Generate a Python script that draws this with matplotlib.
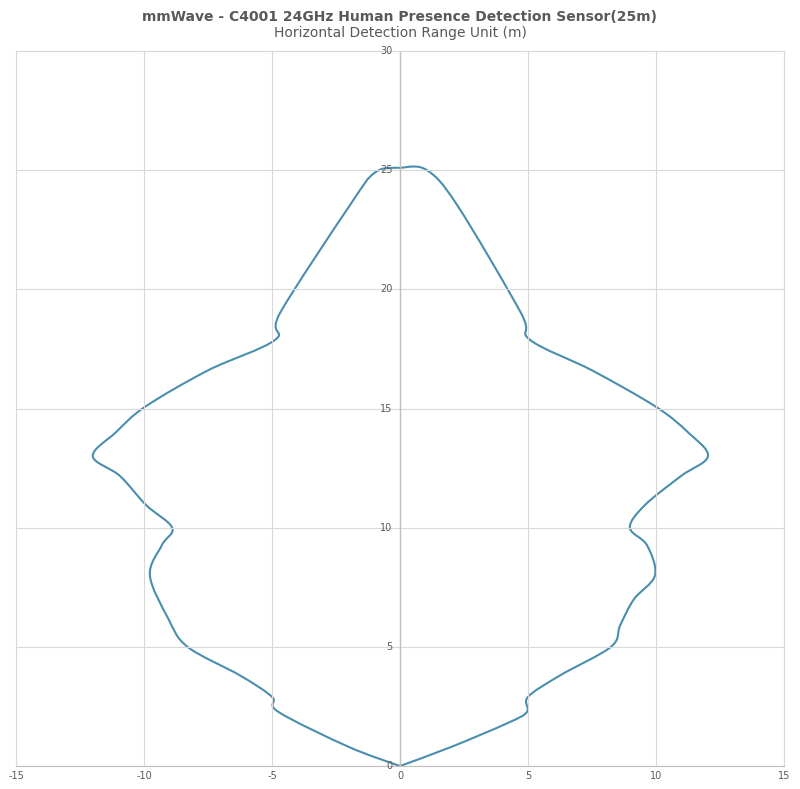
import matplotlib
matplotlib.use("Agg")
import matplotlib.pyplot as plt
from matplotlib.path import Path
from matplotlib.patches import PathPatch
plt.rcParams["axes.unicode_minus"] = False

x_vals = [0, 2.0, 4.2, 4.96, 5.0, 6.25, 8.24, 8.6, 9.14, 9.96, 9.65, 8.98, 9.57, 10.98, 12.03, 11.25, 10.0, 7.5, 5.08, 4.73, 2.23, 1.05, 0,
          -0.98, -1.95, -4.69, -4.88, -7.5, -9.96, -11.1, -12.0, -10.94, -9.92, -8.9, -9.3, -9.77, -9.06, -8.3, -6.25, -5.0, -4.75, -2.0, 0]
y_vals = [0, 0.8, 1.8, 2.27, 2.9, 3.8, 5.0, 5.9, 7.0, 8.0, 9.26, 10.0, 10.95, 12.17, 13.0, 14.0, 15.07, 16.6, 17.88, 19.0, 23.54, 25.0, 25.1,
          24.9, 23.54, 19.0, 17.88, 16.6, 15.07, 14.0, 13.0, 12.17, 10.95, 10.0, 9.27, 8.0, 6.2, 5.0, 3.8, 2.9, 2.27, 0.8, 0]
x_ticks = [-15, -10, -5, 0, 5, 10, 15]
y_ticks = [0, 5, 10, 15, 20, 25, 30]

fig = plt.figure(figsize=(8, 7.89), dpi=100)
ax = fig.add_axes([16/800, 1-766/789, 768/800, 715/789])

# smooth curve through data points (Catmull-Rom as cubic Bezier path)
pts = list(zip(x_vals, y_vals))
verts = [pts[0]]; codes = [Path.MOVETO]
n = len(pts)
for i in range(n - 1):
    p0 = pts[max(i - 1, 0)]; p1 = pts[i]; p2 = pts[i + 1]; p3 = pts[min(i + 2, n - 1)]
    c1 = (p1[0] + (p2[0] - p0[0]) / 6, p1[1] + (p2[1] - p0[1]) / 6)
    c2 = (p2[0] - (p3[0] - p1[0]) / 6, p2[1] - (p3[1] - p1[1]) / 6)
    verts += [c1, c2, p2]; codes += [Path.CURVE4] * 3
ax.add_patch(PathPatch(Path(verts, codes), fill=False, edgecolor="#4a8eae", lw=1.5))

ax.set_xlim(-15, 15); ax.set_ylim(0, 30)
ax.set_xticks(x_ticks); ax.set_yticks(y_ticks)
ax.grid(color="#d9d9d9", lw=0.8)
for s in ["top", "right", "left"]:
    ax.spines[s].set_color("#d9d9d9")
ax.spines["bottom"].set_color("#bfbfbf")
ax.axvline(0, color="#bfbfbf", lw=1)
ax.tick_params(length=0, labelsize=7, colors="#595959")
ax.set_yticklabels([])
for yt in y_ticks:
    ax.text(-0.3, yt, str(yt), ha="right", va="center", fontsize=7, color="#595959")
fig.text(0.5, 1-17/789, "mmWave - C4001 24GHz Human Presence Detection Sensor(25m)", ha="center", va="center",
         fontsize=10, fontweight="bold", color="#595959")
fig.text(0.5, 1-33/789, "Horizontal Detection Range Unit (m)", ha="center", va="center", fontsize=10, color="#595959")
fig.savefig("out.png", dpi=100)
